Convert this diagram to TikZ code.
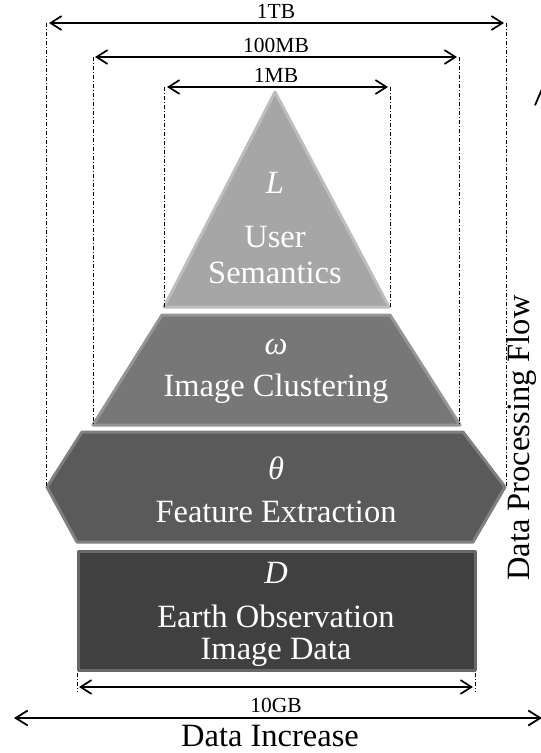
\documentclass[tikz,border=0pt]{standalone}
\usepackage{fontspec}
\setmainfont{Liberation Serif}
\usetikzlibrary{arrows.meta}
\begin{document}
\begin{tikzpicture}[x=1pt,y=-1pt,
  lbl/.style={text=white, font=\fontsize{32.5}{36}\selectfont, inner sep=0pt},
  dimlbl/.style={text=black, font=\fontsize{21.5}{24}\selectfont, inner sep=0pt},
  biglbl/.style={text=black, font=\fontsize{32.5}{36}\selectfont, inner sep=0pt},
  ext/.style={line width=1pt, dash pattern=on 4pt off 2pt on 1pt off 2pt},
  dimarrow/.style={line width=1.7pt, {Straight Barb[length=11pt,width=14pt]}-{Straight Barb[length=11pt,width=14pt]}},
  bigarrow/.style={line width=1.8pt, {Straight Barb[length=12pt,width=15pt]}-{Straight Barb[length=12pt,width=15pt]}},
  layer/.style={line width=3pt, line join=round},
]
\useasboundingbox (0,0) rectangle (541,753);
\definecolor{triF}{HTML}{A6A6A6}\definecolor{triD}{HTML}{BDBDBD}
\definecolor{trapF}{HTML}{777777}\definecolor{trapD}{HTML}{959595}
\definecolor{hexF}{HTML}{5A5A5A}\definecolor{hexD}{HTML}{7F7F7F}
\definecolor{recF}{HTML}{404040}\definecolor{recD}{HTML}{686868}

% layers
\filldraw[layer, fill=triF, draw=triD] (275,92) -- (389,307) -- (164,307) -- cycle;
\filldraw[layer, fill=trapF, draw=trapD] (162,315) -- (390,315) -- (460,425) -- (93,425) -- cycle;
\filldraw[layer, fill=hexF, draw=hexD] (82,432) -- (463,432) -- (505,487) -- (473,542) -- (77,542) -- (47,487) -- cycle;
\filldraw[layer, fill=recF, draw=recD] (78,551) rectangle (475,670);

% layer texts
\node[lbl, font=\fontsize{32.5}{36}\selectfont\itshape] (tL) at (275,183) {L};
\node[lbl] (tUser) at (275,237) {User};
\node[lbl] (tSem) at (275,273) {Semantics};
\node[lbl, font=\fontsize{32.5}{36}\selectfont\itshape] (tW) at (276,347) {ω};
\node[lbl] (tIC) at (276,389) {Image Clustering};
\node[lbl, font=\fontsize{32.5}{36}\selectfont\itshape] (tT) at (276,468) {θ};
\node[lbl] (tFE) at (276,512) {Feature Extraction};
\node[lbl, font=\fontsize{32.5}{36}\selectfont\itshape] (tD) at (276,573) {D};
\node[lbl] (tEO) at (276,616) {Earth Observation};
\node[lbl] (tID) at (276,652) {Image Data};

% extension lines
\coordinate (a1) at (46,23);   \coordinate (a1b) at (46,487);
\coordinate (a2) at (506,23);  \coordinate (a2b) at (506,487);
\coordinate (b1) at (93,57);   \coordinate (b1b) at (93,425);
\coordinate (b2) at (459,57);  \coordinate (b2b) at (459,425);
\coordinate (c1) at (164,87);  \coordinate (c1b) at (164,307);
\coordinate (c2) at (390,87);  \coordinate (c2b) at (390,307);
\coordinate (d1) at (77,687);  \coordinate (d1t) at (77,673); \coordinate (d1b) at (77,692);
\coordinate (d2) at (475,687); \coordinate (d2t) at (475,673); \coordinate (d2b) at (475,692);
\draw[ext] (a1) -- (a1b); \draw[ext] (a2) -- (a2b);
\draw[ext] (b1) -- (b1b); \draw[ext] (b2) -- (b2b);
\draw[ext] (c1) -- (c1b); \draw[ext] (c2) -- (c2b);
\draw[ext] (d1t) -- (d1b); \draw[ext] (d2t) -- (d2b);

% dimension arrows
\draw[dimarrow, shorten <=3pt, shorten >=2pt] (a1) -- (a2);
\draw[dimarrow, shorten <=2pt, shorten >=2pt] (b1) -- (b2);
\draw[dimarrow, shorten <=3pt, shorten >=2pt] (c1) -- (c2);
\draw[dimarrow, shorten <=2pt, shorten >=2pt] (d1) -- (d2);
\node[dimlbl] (l1) at (276,11) {1TB};
\node[dimlbl] (l2) at (276,45) {100MB};
\node[dimlbl] (l3) at (276,75) {1MB};
\node[dimlbl] (l4) at (276,705) {10GB};

% data increase
\coordinate (e1) at (14,718); \coordinate (e2) at (542,718);
\draw[bigarrow] (e1) -- (e2);
\node[biglbl] (di) at (270,736) {Data Increase};

% data processing flow
\node[biglbl, rotate=90, anchor=base] (dpf) at (529,438) {Data Processing Flow};
\coordinate (f1) at (547,700); \coordinate (f2) at (547,75);
\draw[line width=1.8pt, -{Straight Barb[length=28pt,width=24pt]}] (f1) -- (f2);
\end{tikzpicture}
\end{document}
